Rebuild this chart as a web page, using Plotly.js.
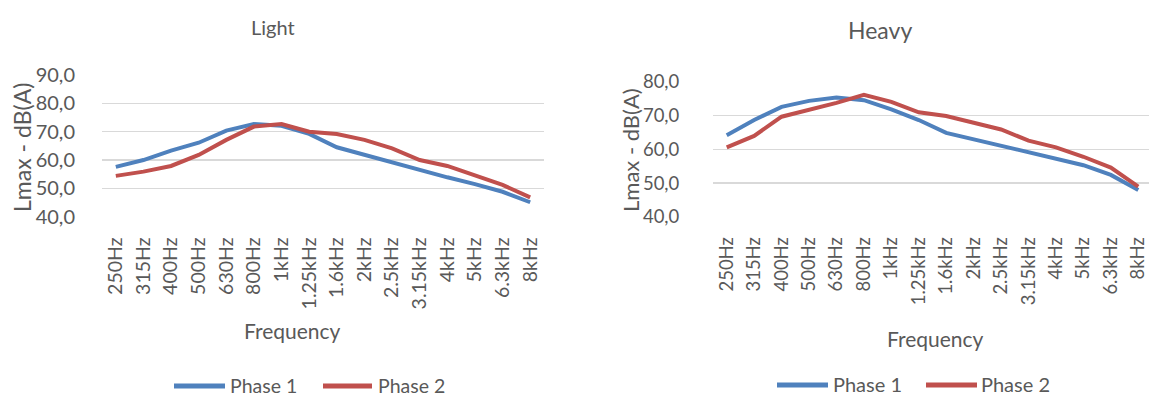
<!DOCTYPE html>
<html>
<head>
<meta charset="utf-8">
<script src="https://cdn.plot.ly/plotly-3.0.1.min.js"></script>
<style>
  html, body { margin: 0; padding: 0; background: #ffffff; overflow: hidden; }
  #chart { width: 1160px; height: 398px; }
</style>
</head>
<body>
<div id="chart"></div>
<script>
// One-third-octave band centre frequencies
const frequencies = ['250Hz', '315Hz', '400Hz', '500Hz', '630Hz', '800Hz', '1kHz', '1.25kHz',
  '1.6kHz', '2kHz', '2.5kHz', '3.15kHz', '4kHz', '5kHz', '6.3kHz', '8kHz'];

// Lmax, dB(A) per band — light vehicles
const lightPhase1 = [57.6, 60.0, 63.3, 66.1, 70.4, 72.7, 72.1, 69.2, 64.5, 61.8, 59.4, 56.7, 53.9, 51.5, 48.8, 45.1];
const lightPhase2 = [54.4, 55.9, 57.9, 61.8, 67.1, 71.8, 72.7, 70.0, 69.2, 67.1, 64.1, 60.0, 57.9, 54.4, 51.2, 46.8];

// Lmax, dB(A) per band — heavy vehicles
const heavyPhase1 = [64.2, 68.7, 72.6, 74.4, 75.4, 74.6, 71.9, 68.7, 64.9, 63.0, 61.3, 59.3, 57.3, 55.3, 52.4, 47.9];
const heavyPhase2 = [60.6, 64.0, 69.7, 71.7, 73.8, 76.2, 74.1, 71.0, 69.9, 67.9, 65.9, 62.6, 60.6, 57.8, 54.6, 48.9];

const seriesNames = ['Phase 1', 'Phase 2'];
const seriesColors = ['#4F81BD', '#C0504D'];

const W = 1160, H = 398;
const px = x => x / W;
const py = y => 1 - y / H;

const FONT = 'Lato, "Open Sans", sans-serif';
const TXT = '#595959';
const GRID = '#d9d9d9';

function line(y, i, xa, ya) {
  return {
    type: 'scatter', mode: 'lines',
    x: frequencies, y: y,
    name: seriesNames[i],
    xaxis: xa, yaxis: ya,
    line: { color: seriesColors[i], width: 4 },
    showlegend: false
  };
}

const data = [
  line(lightPhase1, 0, 'x', 'y'),
  line(lightPhase2, 1, 'x', 'y'),
  line(heavyPhase1, 0, 'x2', 'y2'),
  line(heavyPhase2, 1, 'x2', 'y2')
];

function xAxis(domain, anchor, size) {
  return {
    domain: domain, anchor: anchor, type: 'category',
    range: [-0.5, frequencies.length - 0.5],
    showgrid: false, zeroline: false, showline: false,
    ticks: 'outside', ticklen: 12, tickcolor: 'rgba(0,0,0,0)',
    tickangle: -90, tickfont: { family: FONT, size: size, color: TXT },
    fixedrange: true
  };
}

function yAxis(domain, anchor, range, standoff, size) {
  return {
    domain: domain, anchor: anchor, range: range, dtick: 10,
    tickformat: '.1f',
    showgrid: true, gridcolor: GRID, gridwidth: 1.5,
    zeroline: false, showline: false,
    ticks: 'outside', ticklen: standoff, tickcolor: 'rgba(0,0,0,0)',
    tickfont: { family: FONT, size: size, color: TXT },
    fixedrange: true
  };
}

function text(str, x, y, size, angle, anchor) {
  return {
    text: str, xref: 'paper', yref: 'paper', x: px(x), y: py(y),
    xanchor: anchor || 'center', yanchor: 'middle', showarrow: false,
    textangle: angle || 0, borderpad: 0,
    font: { family: FONT, size: size, color: TXT }
  };
}

// Legend keys drawn as short strokes with labels beside them
function legendKey(x0, x1, y, i) {
  return {
    type: 'line', xref: 'paper', yref: 'paper',
    x0: px(x0), x1: px(x1), y0: py(y), y1: py(y),
    line: { color: seriesColors[i], width: 5 }
  };
}

const layout = {
  width: W, height: H,
  margin: { l: 0, r: 0, t: 0, b: 0, autoexpand: false },
  paper_bgcolor: '#ffffff', plot_bgcolor: '#ffffff',
  separators: ', ',
  font: { family: FONT, color: TXT },
  showlegend: false,
  xaxis: xAxis([px(102), px(544)], 'y', 19.5),
  yaxis: yAxis([py(216.7), py(75)], 'x', [40, 90], 22, 20),
  xaxis2: xAxis([px(713), px(1152)], 'y2', 18.5),
  yaxis2: yAxis([py(216.7), py(82)], 'x2', [40, 80], 29, 18.5),
  shapes: [
    legendKey(174, 225, 386, 0),
    legendKey(323, 372, 386, 1),
    legendKey(777, 828, 385, 0),
    legendKey(926, 977, 385, 1)
  ],
  annotations: [
    text('Light', 273, 27, 20),
    text('Heavy', 880, 30, 23),
    text('Frequency', 292, 330, 21),
    text('Frequency', 935, 338, 21),
    text('Lmax - dB(A)', 22, 148, 23, -90),
    text('Lmax - dB(A)', 630, 150, 22, -90),
    text(seriesNames[0], 229, 385, 19.5, 0, 'left'),
    text(seriesNames[1], 377, 385, 19.5, 0, 'left'),
    text(seriesNames[0], 832, 384, 20, 0, 'left'),
    text(seriesNames[1], 980, 384, 20, 0, 'left')
  ]
};

Plotly.newPlot('chart', data, layout, { displayModeBar: false, staticPlot: true });
</script>
</body>
</html>
